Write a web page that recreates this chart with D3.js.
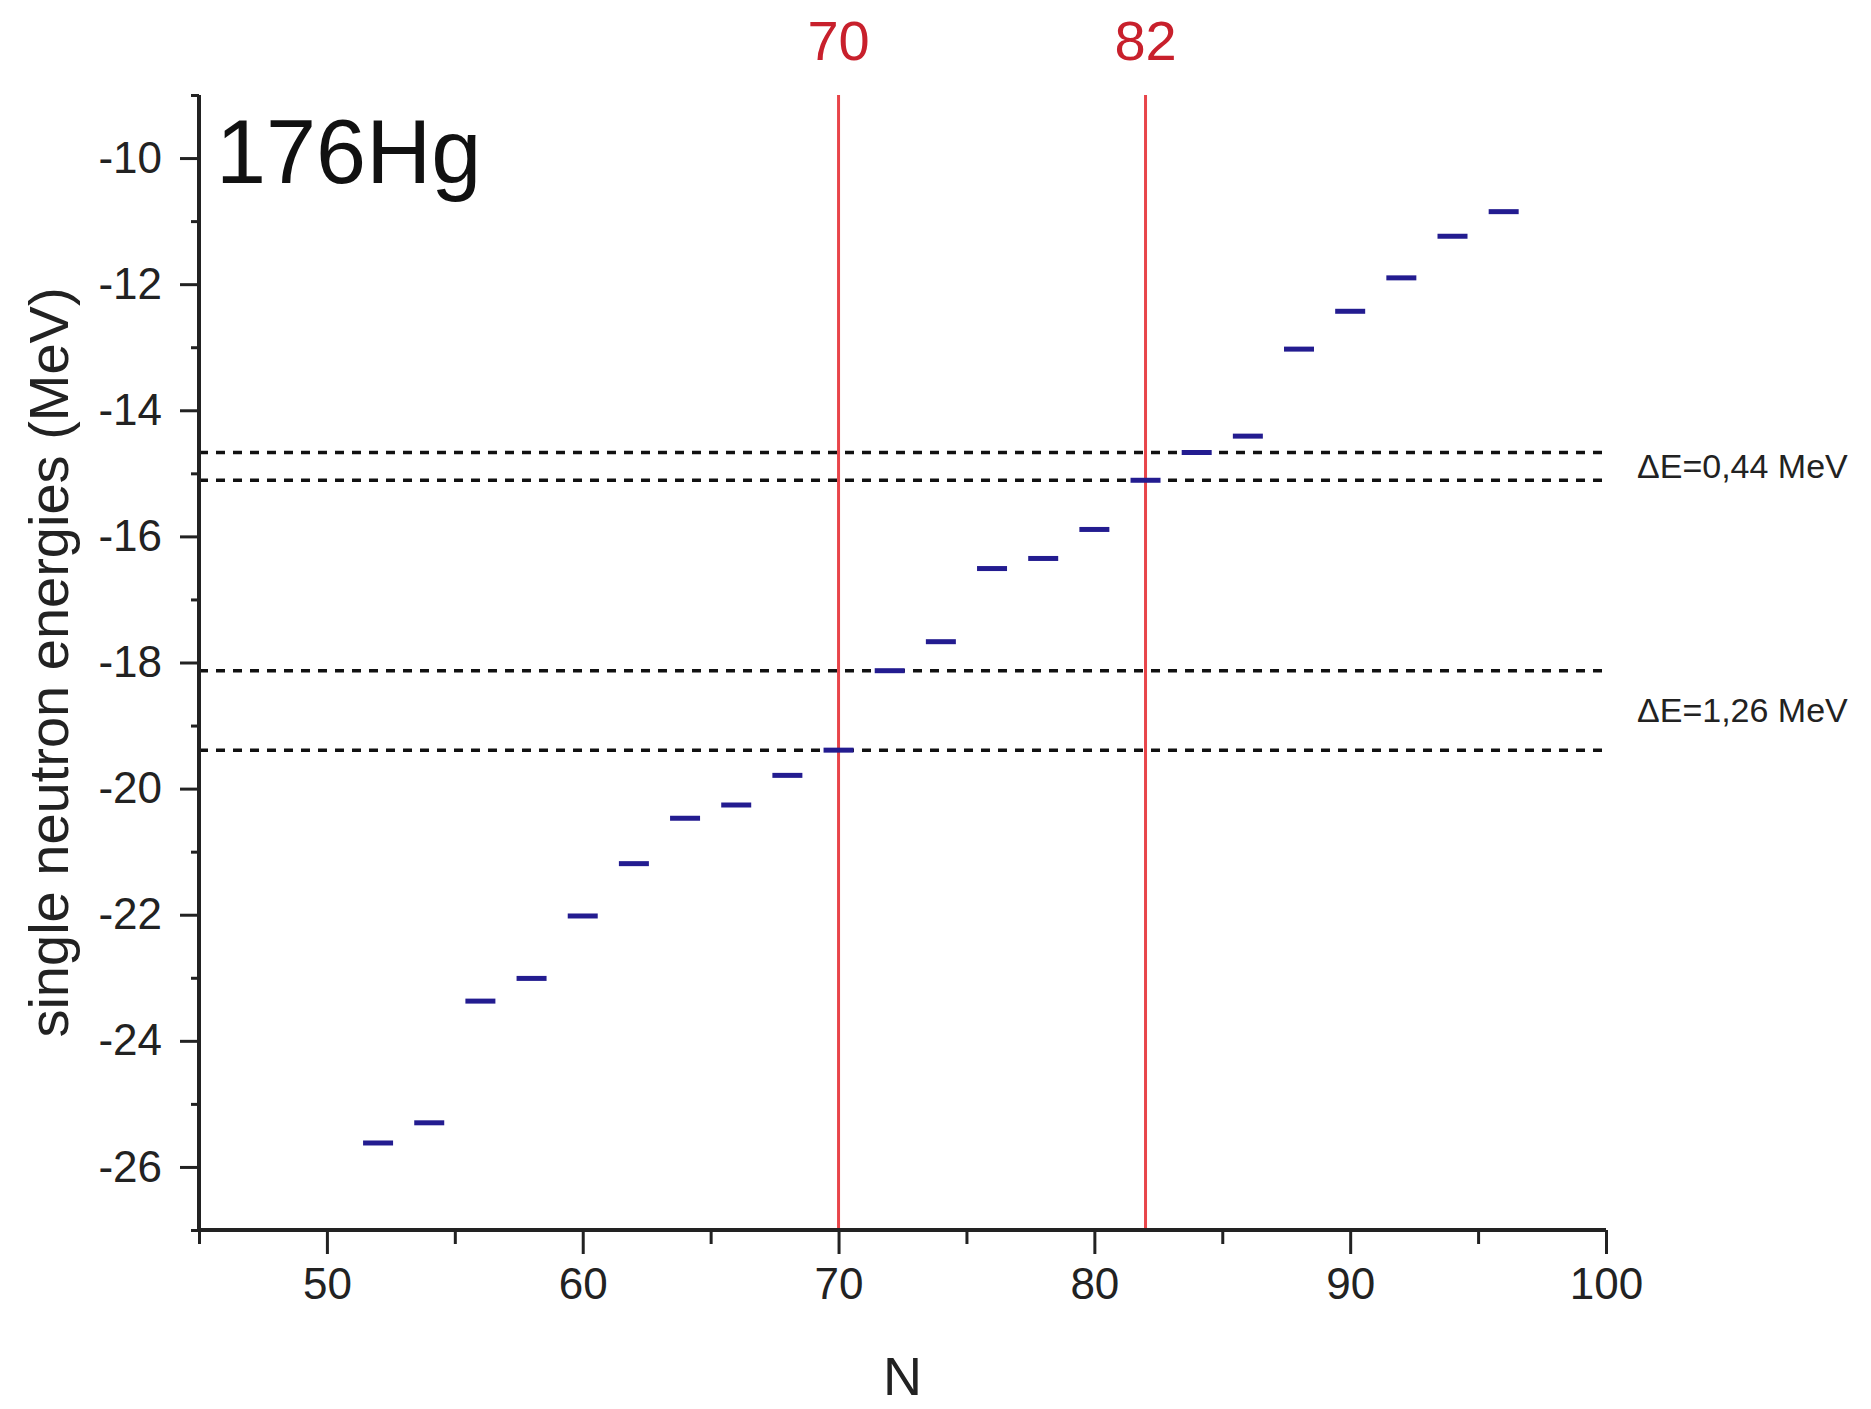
<!DOCTYPE html>
<html>

<head>
    <meta charset="utf-8">
    <title>176Hg single neutron energies</title>
    <style>
        body { margin: 0; background: #fff; }
        text { font-family: "Liberation Sans", Arial, sans-serif; }
    </style>
</head>

<body>
    <script src="https://d3js.org/d3.v7.min.js"></script>
    <script>
        // data
        let neutronN = [52, 54, 56, 58, 60, 62, 64, 66, 68, 70, 72, 74, 76, 78, 80, 82, 84, 86, 88, 90, 92, 94, 96];
        let levelE = [-25.62, -25.30, -23.37, -23.01, -22.02, -21.19, -20.47, -20.26, -19.79, -19.39, -18.13, -17.67,
            -16.51, -16.35, -15.89, -15.11, -14.67, -14.41, -13.03, -12.43, -11.90, -11.24, -10.85];
        let magicN = [70, 82];
        let gapLines = [-14.67, -15.11, -18.13, -19.39];
        let gapLabels = ["ΔE=0,44 MeV", "ΔE=1,26 MeV"];
        let xTicks = [50, 60, 70, 80, 90, 100];
        let xMinor = [45, 55, 65, 75, 85, 95];
        let yTicks = [-10, -12, -14, -16, -18, -20, -22, -24, -26];
        let yMinor = [-9, -11, -13, -15, -17, -19, -21, -23, -25, -27];
        let nucleus = "176Hg";

        let width = 1871, height = 1409;
        let margin = { top: 95, right: 265, bottom: 179, left: 199 };

        let svg = d3.select("body").append("svg")
            .attr("width", width)
            .attr("height", height);

        let x = d3.scaleLinear().domain([45, 100]).range([margin.left, width - margin.right]);
        let y = d3.scaleLinear().domain([-27, -9]).range([height - margin.bottom, margin.top]);

        // dashed lines marking the gaps
        svg.selectAll("line.gap")
            .data(gapLines)
            .enter()
            .append("line")
            .attr("class", "gap")
            .attr("x1", x(45))
            .attr("x2", x(100))
            .attr("y1", d => y(d))
            .attr("y2", d => y(d))
            .attr("stroke", "#111")
            .attr("stroke-width", 3.5)
            .attr("stroke-dasharray", "9,8");

        // red lines at the magic numbers
        svg.selectAll("line.magic")
            .data(magicN)
            .enter()
            .append("line")
            .attr("class", "magic")
            .attr("x1", d => x(d))
            .attr("x2", d => x(d))
            .attr("y1", y(-9))
            .attr("y2", y(-27))
            .attr("stroke", "#e8454a")
            .attr("stroke-width", 3);

        svg.selectAll("text.magic")
            .data(magicN)
            .enter()
            .append("text")
            .attr("class", "magic")
            .attr("x", d => x(d))
            .attr("y", 60)
            .attr("text-anchor", "middle")
            .attr("font-size", 56)
            .attr("fill", "#c8202c")
            .text(d => d);

        // level markers
        svg.selectAll("line.level")
            .data(neutronN)
            .enter()
            .append("line")
            .attr("class", "level")
            .attr("x1", d => x(d) - 15)
            .attr("x2", d => x(d) + 15)
            .attr("y1", (d, i) => y(levelE[i]))
            .attr("y2", (d, i) => y(levelE[i]))
            .attr("stroke", "#231c90")
            .attr("stroke-width", 5);

        // axes
        let xAxisMinor = svg.append("g")
            .attr("transform", "translate(0," + y(-27) + ")")
            .call(d3.axisBottom(x).tickValues(xMinor).tickSize(14).tickFormat(""));
        let xAxis = svg.append("g")
            .attr("transform", "translate(0," + y(-27) + ")")
            .call(d3.axisBottom(x).tickValues(xTicks).tickSize(24).tickPadding(14).tickFormat(d3.format("d")));
        let yAxisMinor = svg.append("g")
            .attr("transform", "translate(" + x(45) + ",0)")
            .call(d3.axisLeft(y).tickValues(yMinor).tickSize(8).tickFormat(""));
        let yAxis = svg.append("g")
            .attr("transform", "translate(" + x(45) + ",0)")
            .call(d3.axisLeft(y).tickValues(yTicks).tickSize(19).tickPadding(18).tickFormat(d => "-" + Math.abs(d)));

        [xAxisMinor, xAxis, yAxisMinor, yAxis].forEach(function(g) {
            g.select(".domain").remove();
            g.selectAll(".tick line").attr("stroke", "#222").attr("stroke-width", 3);
            g.selectAll(".tick text")
                .attr("font-size", 44)
                .attr("font-family", "Liberation Sans, Arial, sans-serif")
                .attr("fill", "#222");
        });

        svg.append("line")
            .attr("x1", x(45)).attr("x2", x(45))
            .attr("y1", y(-9)).attr("y2", y(-27) + 2)
            .attr("stroke", "#222").attr("stroke-width", 4);
        svg.append("line")
            .attr("x1", x(45) - 2).attr("x2", x(100))
            .attr("y1", y(-27)).attr("y2", y(-27))
            .attr("stroke", "#222").attr("stroke-width", 4);

        // gap labels
        svg.selectAll("text.gap")
            .data(gapLabels)
            .enter()
            .append("text")
            .attr("class", "gap")
            .attr("x", x(100) + 31)
            .attr("y", (d, i) => (y(gapLines[2 * i]) + y(gapLines[2 * i + 1])) / 2 + 12)
            .attr("font-size", 34)
            .attr("fill", "#222")
            .text(d => d);

        // titles
        svg.append("text")
            .attr("x", 216)
            .attr("y", 183)
            .attr("font-size", 90)
            .attr("fill", "#111")
            .text(nucleus);

        svg.append("text")
            .attr("x", (x(45) + x(100)) / 2)
            .attr("y", 1395)
            .attr("text-anchor", "middle")
            .attr("font-size", 54)
            .attr("fill", "#222")
            .text("N");

        svg.append("text")
            .attr("transform", "translate(68," + (y(-27) + y(-9)) / 2 + ") rotate(-90)")
            .attr("text-anchor", "middle")
            .attr("font-size", 56)
            .attr("fill", "#222")
            .text("single neutron energies (MeV)");
    </script>
</body>

</html>
